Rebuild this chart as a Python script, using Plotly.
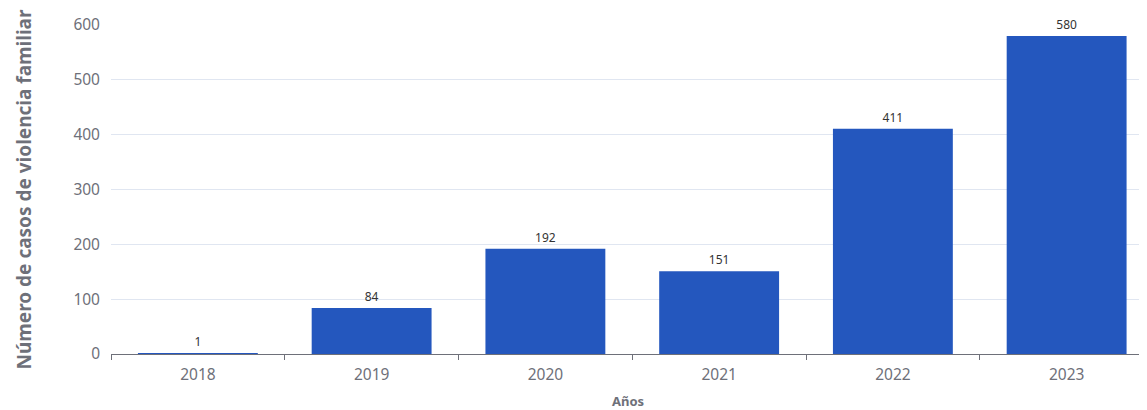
import plotly.graph_objects as go

years = ["2018", "2019", "2020", "2021", "2022", "2023"]
cases = [1, 84, 192, 151, 411, 580]
y_ticks = [0, 100, 200, 300, 400, 500, 600]

fig = go.Figure(go.Bar(
    x=years, y=cases,
    marker=dict(color="#2457BE", line=dict(width=0)),
    text=[str(v) for v in cases], textposition="outside",
    textfont=dict(size=12, color="#333333", family="Noto Sans"),
    cliponaxis=False,
))

# page body has 8px default margin; compensate so the plot lands where the reference has it
fig.update_layout(
    width=1139, height=402,
    margin=dict(l=103, r=2, t=17, b=54),
    paper_bgcolor="white", plot_bgcolor="white",
    bargap=0.31,
    font=dict(family="Noto Sans", color="#6E7079"),
    showlegend=False,
    xaxis=dict(
        type="category",
        range=[-0.5, 5.451],
        showline=True, linecolor="#6E7079", linewidth=1,
        ticks="outside", tickson="boundaries", ticklen=5, tickcolor="#6E7079",
        tickfont=dict(size=15.5, color="#6E7079"),
        ticklabelstandoff=6,
        title=dict(text="<b>Años</b>", font=dict(size=13, color="#6E7079"), standoff=14),
        showgrid=False,
    ),
    yaxis=dict(
        range=[0, 600], tickvals=y_ticks,
        showgrid=True, gridcolor="#E0E6F1", gridwidth=1,
        zeroline=False, showline=False,
        tickfont=dict(size=15.5, color="#6E7079"),
        ticklabelstandoff=10,
        title=dict(text="<b>Número de casos de violencia familiar</b>",
                   font=dict(size=19, color="#6E7079"), standoff=36),
    ),
)

fig.write_html("out.html")
